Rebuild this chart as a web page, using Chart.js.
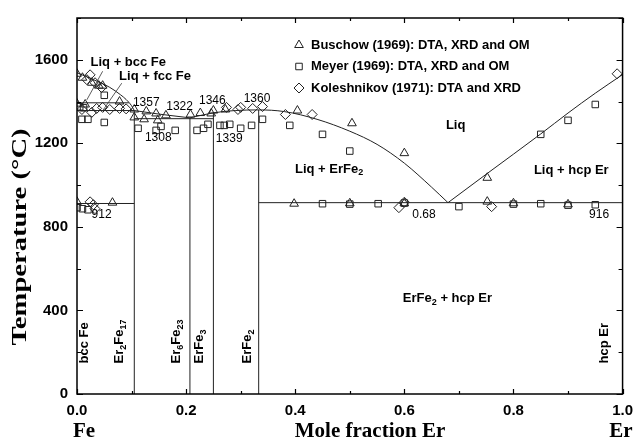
<!DOCTYPE html>
<html>
<head>
<meta charset="utf-8">
<script src="https://cdn.jsdelivr.net/npm/chart.js@4.4.0/dist/chart.umd.min.js"></script>
<style>
  html, body { margin: 0; padding: 0; background: #fff; }
  #wrap { width: 641px; height: 442px; }
</style>
</head>
<body>
<div id="wrap"><canvas id="chart"></canvas></div>
<script>
// measured points [mole fraction Er, temperature]
var buschow = [[0,1533],[0.01,1514],[0.027,1490],[0.04,1476],[0.047,1476],[0.078,1400],[0,1390],[0.015,1386],
  [0.105,1362],[0.105,1324],[0.123,1315],[0.127,1353],[0.145,1343],[0.163,1334],[0.148,1310],
  [0.208,1338],[0.226,1345],[0.246,1343],[0.25,1357],[0.272,1362],[0.404,1357],[0.504,1296],[0.6,1153],
  [0.752,1035],[0,920],[0.065,916],[0.398,911],[0.5,913],[0.6,913],[0.752,921],[0.8,913],[0.9,908]];
var meyer = [[0.05,1430],[0.005,1375],[0.012,1370],[0.009,1315],[0.02,1315],[0.05,1300],[0.112,1272],
  [0.145,1262],[0.154,1281],[0.18,1262],[0.22,1262],[0.232,1272],[0.24,1291],[0.262,1286],[0.27,1286],
  [0.28,1291],[0.3,1272],[0.32,1286],[0.34,1315],[0.39,1286],[0.45,1243],[0.5,1163],
  [0,892],[0.01,887],[0.02,882],[0.45,911],[0.5,909],[0.552,911],[0.6,914],[0.7,897],[0.8,909],
  [0.85,911],[0.9,904],[0.95,906],[0.85,1243],[0.9,1310],[0.95,1386]];
var koleshnikov = [[0.024,1528],[0.018,1505],[0.033,1490],[0.045,1467],[0.009,1362],[0.027,1348],
  [0.036,1367],[0.047,1372],[0.06,1362],[0.078,1367],[0.09,1365],[0.274,1372],[0.295,1362],[0.3,1372],
  [0.322,1367],[0.34,1376],[0.382,1338],[0.431,1338],[0.024,920],[0.03,906],[0.033,887],
  [0.59,892],[0.6,918],[0.76,897],[0.99,1533]];

// phase boundaries
var liquidusFe = [[0,1538],[0.03,1505],[0.06,1468],[0.08,1432],[0.09,1410],[0.1,1380],[0.105,1357]];
var liquidusMid1 = [[0.105,1357],[0.15,1340],[0.207,1322]];
var liquidusMid2 = [[0.207,1322],[0.25,1346],[0.29,1357],[0.333,1360],[0.38,1352],[0.44,1315],
  [0.5,1258],[0.55,1195],[0.6,1105],[0.65,990],[0.68,916]];
var liquidusEr = [[0.68,916],[0.75,1052],[0.85,1245],[0.9,1345],[0.95,1440],[1,1529]];
var compounds = [0.105, 0.207, 0.25, 0.333];
var compoundTops = [1357, 1322, 1346, 1360];
var isotherms = [[0, 0.095, 1394], [0, 0.105, 1357], [0.105, 0.25, 1318], [0, 0.105, 912], [0.333, 1, 916]];

function pts(arr) { return arr.map(function (p) { return {x: p[0], y: p[1]}; }); }

var lineStyle = {borderColor: '#222', borderWidth: 1, pointRadius: 0, showLine: true, fill: false, order: 5};
var datasets = [];
[liquidusFe, liquidusMid1, liquidusMid2, liquidusEr].forEach(function (a) {
  datasets.push(Object.assign({data: pts(a), cubicInterpolationMode: 'monotone'}, lineStyle));
});
compounds.forEach(function (c, i) {
  datasets.push(Object.assign({data: [{x: c, y: 0}, {x: c, y: compoundTops[i]}]}, lineStyle));
});
isotherms.forEach(function (h) {
  datasets.push(Object.assign({data: [{x: h[0], y: h[2]}, {x: h[1], y: h[2]}]}, lineStyle));
});

var markStyle = {showLine: false, borderColor: '#222', borderWidth: 1, backgroundColor: 'rgba(0,0,0,0)', order: 1};
var series = [
  {label: 'Buschow (1969): DTA, XRD and OM', data: buschow, style: 'triangle', r: 5},
  {label: 'Meyer (1969): DTA, XRD and OM', data: meyer, style: 'rect', r: 4.6},
  {label: 'Koleshnikov (1971): DTA and XRD', data: koleshnikov, style: 'rectRot', r: 5}
];
series.forEach(function (s) {
  datasets.push(Object.assign({label: s.label, data: pts(s.data), pointStyle: s.style, pointRadius: s.r}, markStyle));
});

// text placed in data coordinates
var regionLabels = [
  {t: [['Liq + bcc Fe']], x: 0.094, y: 1585},
  {t: [['Liq + fcc Fe']], x: 0.143, y: 1518},
  {t: [['Liq']], x: 0.694, y: 1285},
  {t: [['Liq + ErFe'], ['2', 1]], x: 0.462, y: 1077},
  {t: [['Liq + hcp Er']], x: 0.906, y: 1072},
  {t: [['ErFe'], ['2', 1], [' + hcp Er']], x: 0.679, y: 458}
];
var numLabels = [['1357', 0.127, 1393], ['1322', 0.188, 1375], ['1346', 0.248, 1403], ['1360', 0.33, 1412],
  ['1308', 0.149, 1228], ['1339', 0.279, 1223], ['912', 0.045, 860], ['0.68', 0.636, 860], ['916', 0.957, 860]];
var phaseLabels = [
  {t: [['bcc Fe']], x: 0.0145},
  {t: [['Er'], ['2', 1], ['Fe'], ['17', 1]], x: 0.078},
  {t: [['Er'], ['6', 1], ['Fe'], ['23', 1]], x: 0.183},
  {t: [['ErFe'], ['3', 1]], x: 0.225},
  {t: [['ErFe'], ['2', 1]], x: 0.313},
  {t: [['hcp Er']], x: 0.967}
];
var leaders = [[0.047, 1545, 0.018, 1408], [0.082, 1488, 0.047, 1356]];

function richWidth(ctx, parts, size) {
  var w = 0;
  parts.forEach(function (p) {
    ctx.font = 'bold ' + (p[1] ? Math.round(size * 0.72) : size) + 'px "Liberation Sans", Arial, sans-serif';
    w += ctx.measureText(p[0]).width;
  });
  return w;
}
function drawRich(ctx, parts, x, y, size) {
  ctx.textAlign = 'left';
  ctx.textBaseline = 'middle';
  parts.forEach(function (p) {
    ctx.font = 'bold ' + (p[1] ? Math.round(size * 0.72) : size) + 'px "Liberation Sans", Arial, sans-serif';
    ctx.fillText(p[0], x, p[1] ? y + size * 0.3 : y);
    x += ctx.measureText(p[0]).width;
  });
}

var decor = {
  id: 'decor',
  afterDraw: function (chart) {
    var ctx = chart.ctx, xs = chart.scales.x, ys = chart.scales.y, a = chart.chartArea;
    ctx.save();
    ctx.fillStyle = '#000';
    ctx.strokeStyle = '#000';
    // frame and inward ticks
    ctx.lineWidth = 1.5;
    ctx.strokeRect(a.left, a.top, a.right - a.left, a.bottom - a.top);
    ctx.lineWidth = 1.2;
    ctx.beginPath();
    xs.ticks.forEach(function (t) {
      var px = Math.round(xs.getPixelForValue(t.value)) + 0.5;
      var len = Math.round(t.value * 10) % 2 === 0 ? 5 : 3;
      ctx.moveTo(px, a.bottom); ctx.lineTo(px, a.bottom - len);
      ctx.moveTo(px, a.top); ctx.lineTo(px, a.top + len);
    });
    ys.ticks.forEach(function (t) {
      var py = Math.round(ys.getPixelForValue(t.value)) + 0.5;
      var len = t.value % 400 === 0 ? 6 : 4;
      ctx.moveTo(a.left, py); ctx.lineTo(a.left + len, py);
      ctx.moveTo(a.right, py); ctx.lineTo(a.right - len, py);
    });
    ctx.stroke();

    // leader lines
    ctx.lineWidth = 0.8;
    ctx.strokeStyle = '#333';
    ctx.beginPath();
    leaders.forEach(function (l) {
      ctx.moveTo(xs.getPixelForValue(l[0]), ys.getPixelForValue(l[1]));
      ctx.lineTo(xs.getPixelForValue(l[2]), ys.getPixelForValue(l[3]));
    });
    ctx.stroke();

    // region labels
    regionLabels.forEach(function (r) {
      var w = richWidth(ctx, r.t, 13);
      drawRich(ctx, r.t, xs.getPixelForValue(r.x) - w / 2, ys.getPixelForValue(r.y), 13);
    });
    // vertical phase labels
    phaseLabels.forEach(function (r) {
      ctx.save();
      ctx.translate(xs.getPixelForValue(r.x), ys.getPixelForValue(146));
      ctx.rotate(-Math.PI / 2);
      drawRich(ctx, r.t, 0, 0, 13);
      ctx.restore();
    });
    // temperatures
    ctx.font = '12px "Liberation Sans", Arial, sans-serif';
    ctx.textAlign = 'center';
    ctx.textBaseline = 'middle';
    numLabels.forEach(function (n) {
      ctx.fillText(n[0], xs.getPixelForValue(n[1]), ys.getPixelForValue(n[2]));
    });

    // legend
    chart.data.datasets.forEach(function (d) {
      if (!d.label) return;
      var i = series.findIndex(function (s) { return s.label === d.label; });
      var ly = 45 + i * 21.5;
      ctx.save();
      ctx.fillStyle = 'rgba(0,0,0,0)';
      ctx.strokeStyle = '#222';
      ctx.lineWidth = 1;
      Chart.helpers.drawPoint(ctx, {pointStyle: d.pointStyle, radius: d.pointRadius, borderWidth: 1}, 299, ly);
      ctx.restore();
      ctx.font = 'bold 13px "Liberation Sans", Arial, sans-serif';
      ctx.textAlign = 'left';
      ctx.textBaseline = 'middle';
      ctx.fillText(d.label, 311, ly);
    });

    // axis titles
    ctx.font = 'bold 21px "Liberation Serif", "Times New Roman", serif';
    ctx.textAlign = 'center';
    ctx.textBaseline = 'middle';
    ctx.fillText('Mole fraction Er', 370, 432);
    ctx.fillText('Fe', 84, 432);
    ctx.fillText('Er', 621, 432);
    ctx.save();
    ctx.translate(20, 237);
    ctx.rotate(-Math.PI / 2);
    ctx.scale(1.3, 1);
    ctx.font = 'bold 22px "Liberation Serif", "Times New Roman", serif';
    ctx.fillText('Temperature (\u00B0C)', 0, 0);
    ctx.restore();
    ctx.restore();
  }
};

new Chart(document.getElementById('chart'), {
  type: 'scatter',
  data: {datasets: datasets},
  options: {
    responsive: true,
    maintainAspectRatio: false,
    animation: false,
    layout: {padding: {left: 0, right: 12, top: 13, bottom: 0}},
    plugins: {legend: {display: false}, tooltip: {enabled: false}},
    scales: {
      x: {
        type: 'linear', min: 0, max: 1,
        grid: {display: false, drawTicks: false},
        border: {display: false},
        ticks: {
          stepSize: 0.1, autoSkip: false, maxRotation: 0, padding: 8, color: '#000',
          font: {size: 15, weight: 'bold', family: '"Liberation Sans", Arial, sans-serif'},
          callback: function (v) { return Math.round(v * 10) % 2 === 0 ? v.toFixed(1) : ''; }
        },
        afterFit: function (s) { s.height = 48; }
      },
      y: {
        min: 0, max: 1800,
        grid: {display: false, drawTicks: false},
        border: {display: false},
        ticks: {
          stepSize: 200, autoSkip: false, padding: 9, color: '#000',
          font: {size: 15, weight: 'bold', family: '"Liberation Sans", Arial, sans-serif'},
          callback: function (v) { return v % 400 === 0 && v < 1800 ? v : ''; }
        },
        afterFit: function (s) { s.width = 77; }
      }
    }
  },
  plugins: [decor]
});
</script>
</body>
</html>
